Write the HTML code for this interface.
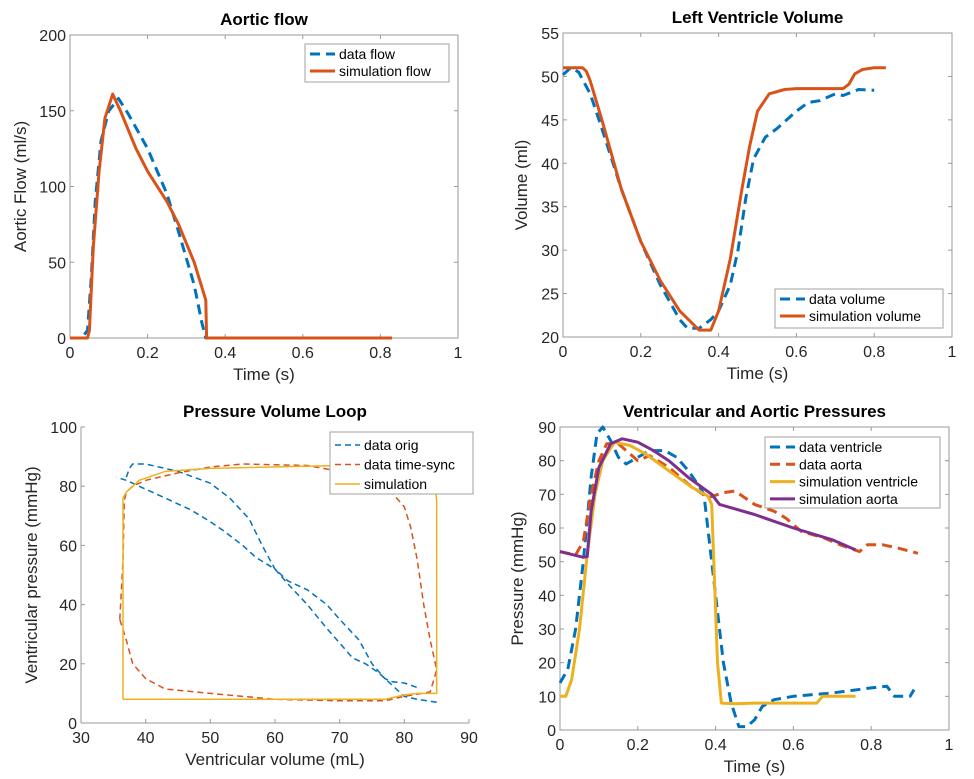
<!DOCTYPE html>
<html><head><meta charset="utf-8"><style>
body{margin:0;background:#fff;}
svg{display:block;font-family:"Liberation Sans",Arial,sans-serif;}
</style></head><body>
<svg id="c" width="974" height="779" viewBox="0 0 974 779"></svg>
<script>
// ---- Panel 1: Aortic flow ----
const flowDataT=[0,0.03,0.045,0.055,0.065,0.08,0.1,0.125,0.15,0.2,0.25,0.28,0.32,0.34,0.35,0.83];
const flowDataV=[0,0,5,40,90,130,150,158,148,125,95,70,35,10,0,0];
const flowSimT=[0,0.045,0.05,0.06,0.075,0.09,0.11,0.13,0.17,0.2,0.25,0.28,0.32,0.35,0.352,0.83];
const flowSimV=[0,0,5,60,110,145,161,150,125,110,90,75,50,25,0,0];
const flowXTicks=[0,0.2,0.4,0.6,0.8,1];
const flowYTicks=[0,50,100,150,200];
// ---- Panel 2: Left ventricle volume ----
const volDataT=[0,0.02,0.04,0.07,0.1,0.15,0.2,0.25,0.3,0.32,0.35,0.38,0.4,0.43,0.45,0.47,0.49,0.52,0.55,0.6,0.63,0.66,0.7,0.72,0.76,0.8];
const volDataV=[50.2,51,50.5,48,44,37,31,26,22,21,21,22,23,26,30,36,40.5,43,44,46,47,47.2,48,47.8,48.5,48.4];
const volSimT=[0,0.05,0.06,0.07,0.1,0.15,0.2,0.25,0.3,0.35,0.38,0.4,0.43,0.46,0.48,0.5,0.53,0.57,0.6,0.72,0.735,0.75,0.77,0.8,0.83];
const volSimV=[51,51,50.6,49.5,45,37,31,26.5,23,20.8,20.8,23,29,37,42,46,48,48.5,48.6,48.6,49.1,50.3,50.8,51,51];
const volXTicks=[0,0.2,0.4,0.6,0.8,1];
const volYTicks=[20,25,30,35,40,45,50,55];
// ---- Panel 3: PV loop ----
const pvSimV=[36.5,77,80,82,85,85,84.8,84,82,70,50,43,39,37,36.5,36.5];
const pvSimP=[8,8,9.5,10,10,75,80,84,86.5,87,86,85,82,78,76,8];
const pvSyncV=[36,36.5,36.7,37,38,40,45,50,55,65,70,75,78,80,81,82,83,84,85,84,80,77,70,60,50,43,40,38,37,36];
const pvSyncP=[35,55,75,78,80,82,84.5,86.5,87.5,87,85,82,78,73,66,55,40,28,18,10.5,9,7.5,7.5,8,10,11.5,15,20,28,35];
const pvOrigV=[37,37.5,38,40,45,50,53,56,58,60,62,65,68,70,73,75,77,78,80,82,null,85,82,80,78,76,74,72,70,68,65,62,60,57,55,52,50,47,43,40,37,35.5];
const pvOrigP=[83,86,87.5,87.5,85,81,76,69,60,52,48,45,40,35,28,20,15,14,13.5,12,null,7,8,9,13,17,20,22,27,32,40,47,52,56,60,65,68,72,76,79,82,83];
const pvXTicks=[30,40,50,60,70,80,90];
const pvYTicks=[0,20,40,60,80,100];
// ---- Panel 4: pressures ----
const pvenT=[0,0.02,0.04,0.06,0.08,0.095,0.11,0.13,0.15,0.17,0.2,0.23,0.27,0.3,0.33,0.36,0.37,0.38,0.4,0.42,0.44,0.46,0.48,0.5,0.52,0.55,0.6,0.7,0.8,0.84,0.86,0.9,0.91];
const pvenV=[14,18,30,50,75,88,90,86,81,79,81,83,83,81,77,72,70,60,40,20,8,1,1,3,7,9,10,11,12.5,13,10,10,12];
const paorT=[0,0.04,0.06,0.08,0.1,0.12,0.15,0.18,0.2,0.23,0.28,0.33,0.38,0.42,0.45,0.5,0.55,0.58,0.62,0.68,0.72,0.77,0.79,0.83,0.87,0.92];
const paorV=[53,52,56,70,80,85,85,82,80,81.5,78,73,69,70.5,71,67,65,63,59,57,55,53,55,55,54,52.5];
const psvT=[0,0.015,0.03,0.05,0.07,0.09,0.11,0.14,0.18,0.22,0.28,0.34,0.38,0.39,0.405,0.415,0.45,0.5,0.66,0.675,0.76];
const psvV=[10,10,15,30,52,70,80,85.5,84.5,82,77,72,69.5,67,20,8,7.8,8,8,10,10];
const psaT=[0,0.06,0.07,0.08,0.1,0.13,0.16,0.2,0.24,0.28,0.33,0.39,0.41,0.5,0.6,0.7,0.76];
const psaV=[53,51.3,51.5,65,78,85,86.5,85.5,83,80,75,70,67,64,60,56.5,53.5];
const prXTicks=[0,0.2,0.4,0.6,0.8,1];
const prYTicks=[0,10,20,30,40,50,60,70,80,90];

const BLUE="#0072BD",RED="#D95319",YEL="#EDB120",PUR="#7E2F8E";
const svg=document.getElementById('c');
const NS="http://www.w3.org/2000/svg";
function mk(tag,attrs,parent){const e=document.createElementNS(NS,tag);for(const k in attrs)e.setAttribute(k,attrs[k]);(parent||svg).appendChild(e);return e;}
function txt(s,x,y,size,anchor,parent,extra){const t=mk('text',Object.assign({x:x,y:y,'font-size':size,'text-anchor':anchor||'middle',fill:'#262626'},extra||{}),parent);t.textContent=s;return t;}

function panel(cfg){
  const g=mk('g',{});
  
  
  const sx=v=>cfg.L+(v-cfg.x0)/(cfg.x1-cfg.x0)*(cfg.R-cfg.L);
  const sy=v=>cfg.B-(v-cfg.y0)/(cfg.y1-cfg.y0)*(cfg.B-cfg.T);
  const ax=mk('g',{},g);
  
  
  const lc="#9a9a9a";
  if(cfg.box){mk('rect',{x:cfg.L,y:cfg.T,width:cfg.R-cfg.L,height:cfg.B-cfg.T,fill:'none',stroke:lc,'stroke-width':1},ax);}
  else{mk('line',{x1:cfg.L,y1:cfg.T,x2:cfg.L,y2:cfg.B,stroke:lc},ax);mk('line',{x1:cfg.L,y1:cfg.B,x2:cfg.R,y2:cfg.B,stroke:lc},ax);}
  cfg.xt.forEach(v=>{const x=sx(v);mk('line',{x1:x,y1:cfg.B,x2:x,y2:cfg.B-4,stroke:lc},ax);if(cfg.box)mk('line',{x1:x,y1:cfg.T,x2:x,y2:cfg.T+4,stroke:lc},ax);
    const t=txt(String(v),x,cfg.B+20,16,'middle',ax);});
  cfg.yt.forEach(v=>{const y=sy(v);mk('line',{x1:cfg.L,y1:y,x2:cfg.L+4,y2:y,stroke:lc},ax);if(cfg.box)mk('line',{x1:cfg.R,y1:y,x2:cfg.R-4,y2:y,stroke:lc},ax);
    const t=txt(String(v),cfg.L-4,y+6,16,'end',ax);});
  const tt=txt(cfg.title,(cfg.L+cfg.R)/2,cfg.T-10,17,'middle',g,{'font-weight':'bold',fill:'#000'});
  
  const xl=txt(cfg.xlabel,(cfg.L+cfg.R)/2,cfg.B+42,17,'middle',g);
  
  const yc=(cfg.T+cfg.B)/2;
  const yl=txt(cfg.ylabel,cfg.ylx,yc,17,'middle',g,{transform:'rotate(-90 '+cfg.ylx+' '+yc+')'});
  
  cfg.series.forEach(s=>{
    let d='',pen=false;
    for(let i=0;i<s.x.length;i++){if(s.x[i]===null){pen=false;continue;}d+=(pen?'L':'M')+sx(s.x[i]).toFixed(1)+','+sy(s.y[i]).toFixed(1);pen=true;}
    const p=mk('path',{d:d,fill:'none',stroke:s.c,'stroke-width':s.w,'stroke-linejoin':'round','stroke-dasharray':s.dash||'none'},g);
    
    
  });
  const lg=mk('g',{},g);
  
  
  const L=cfg.leg;
  mk('rect',{x:L.x,y:L.y,width:L.w,height:L.h,fill:'#fff',stroke:'#a0a0a0'},lg);
  cfg.series.forEach((s,i)=>{
    const y=L.y+L.pad+i*L.dy;
    const e=mk('g',{},lg);
    
    
    mk('line',{x1:L.x+5,y1:y,x2:L.x+30,y2:y,stroke:s.c,'stroke-width':s.w,'stroke-dasharray':s.dash||'none'},e);
    txt(s.label,L.x+34,y+5,14,'start',e,{fill:'#000'});
  });
}

panel({name:'aortic-flow-chart',L:70,R:458,T:35,B:338,x0:0,x1:1,y0:0,y1:200,box:true,xt:flowXTicks,yt:flowYTicks,
  title:'Aortic flow',xlabel:'Time (s)',ylabel:'Aortic Flow (ml/s)',ylx:26,
  series:[{name:'data-flow-line',label:'data flow',x:flowDataT,y:flowDataV,c:BLUE,w:3,dash:'10 6'},
          {name:'simulation-flow-line',label:'simulation flow',x:flowSimT,y:flowSimV,c:RED,w:3}],
  leg:{x:305,y:44,w:144,h:38,pad:10,dy:17}});

panel({name:'ventricle-volume-chart',L:563,R:952,T:33,B:337,x0:0,x1:1,y0:20,y1:55,box:true,xt:volXTicks,yt:volYTicks,
  title:'Left Ventricle Volume',xlabel:'Time (s)',ylabel:'Volume (ml)',ylx:527,
  series:[{name:'data-volume-line',label:'data volume',x:volDataT,y:volDataV,c:BLUE,w:3,dash:'10 6'},
          {name:'simulation-volume-line',label:'simulation volume',x:volSimT,y:volSimV,c:RED,w:3}],
  leg:{x:775,y:289,w:168,h:39,pad:10,dy:17}});

panel({name:'pressure-volume-loop-chart',L:81,R:469,T:427,B:723,x0:30,x1:90,y0:0,y1:100,box:false,xt:pvXTicks,yt:pvYTicks,
  title:'Pressure Volume Loop',xlabel:'Ventricular volume (mL)',ylabel:'Ventricular pressure (mmHg)',ylx:37,
  series:[{name:'data-orig-line',label:'data orig',x:pvOrigV,y:pvOrigP,c:BLUE,w:1.5,dash:'6 4'},
          {name:'data-time-sync-line',label:'data time-sync',x:pvSyncV,y:pvSyncP,c:RED,w:1.5,dash:'6 4'},
          {name:'simulation-loop-line',label:'simulation',x:pvSimV,y:pvSimP,c:YEL,w:1.5}],
  leg:{x:330,y:432,w:143,h:62,pad:13,dy:19.5}});

panel({name:'pressures-chart',L:560,R:949,T:427,B:730,x0:0,x1:1,y0:0,y1:90,box:true,xt:prXTicks,yt:prYTicks,
  title:'Ventricular and Aortic Pressures',xlabel:'Time (s)',ylabel:'Pressure (mmHg)',ylx:523,
  series:[{name:'data-ventricle-line',label:'data ventricle',x:pvenT,y:pvenV,c:BLUE,w:3,dash:'10 6'},
          {name:'data-aorta-line',label:'data aorta',x:paorT,y:paorV,c:RED,w:3,dash:'10 6'},
          {name:'simulation-ventricle-line',label:'simulation ventricle',x:psvT,y:psvV,c:YEL,w:3},
          {name:'simulation-aorta-line',label:'simulation aorta',x:psaT,y:psaV,c:PUR,w:3}],
  leg:{x:765,y:437,w:175,h:71,pad:10,dy:17.3}});
</script>
</body></html>
